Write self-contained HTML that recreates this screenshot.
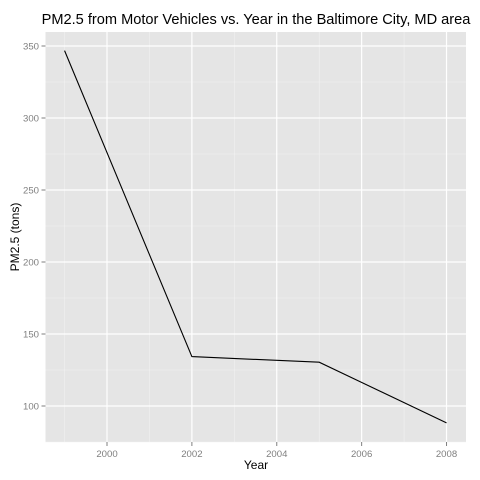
<!DOCTYPE html>
<html><head><meta charset="utf-8"><style>
body{margin:0;background:#fff;}
svg{display:block;font-family:"Liberation Sans",Arial,sans-serif;}
</style></head><body>
<svg id="chart" width="480" height="480">
<text x="256" y="24" text-anchor="middle" font-size="14.6" fill="#000">PM2.5 from Motor Vehicles vs. Year in the Baltimore City, MD area</text>
<rect x="45.5" y="32" width="420.5" height="410" fill="#e5e5e5"/>
<g id="grid"></g>
<g id="axes"></g>
<text x="256" y="469" text-anchor="middle" font-size="12" fill="#000">Year</text>
<text transform="translate(19,237) rotate(-90)" text-anchor="middle" font-size="12" fill="#000">PM2.5 (tons)</text>
</svg>
<script>
const years=[1999,2002,2005,2008];
const emissions=[346.8,134.3,130.4,88.3];
const xTicks=[2000,2002,2004,2006,2008];
const yTicks=[100,150,200,250,300,350];
const NS="http://www.w3.org/2000/svg";
const x=v=>107+(v-2000)*42.44;
const y=v=>406-(v-100)*1.44;
const grid=document.getElementById('grid'),axes=document.getElementById('axes');
function mk(t,a,p){const e=document.createElementNS(NS,t);for(const k in a)e.setAttribute(k,a[k]);p.appendChild(e);return e;}
for(let i=0;i<xTicks.length-1;i++){const m=(xTicks[i]+xTicks[i+1])/2;
const l=mk('line',{x1:x(m),x2:x(m),y1:32,y2:442,stroke:'#f2f2f2','stroke-width':0.6},grid);
}
mk('line',{x1:x(1999),x2:x(1999),y1:32,y2:442,stroke:'#f2f2f2','stroke-width':0.6},grid);
for(let i=0;i<yTicks.length-1;i++){const m=(yTicks[i]+yTicks[i+1])/2;
const l=mk('line',{x1:45.5,x2:466,y1:y(m),y2:y(m),stroke:'#f2f2f2','stroke-width':0.6},grid);
}
mk('line',{x1:45.5,x2:466,y1:y(75),y2:y(75),stroke:'#f2f2f2','stroke-width':0.6},grid);
xTicks.forEach(v=>{
const l=mk('line',{x1:x(v),x2:x(v),y1:32,y2:442,stroke:'#fff','stroke-width':1.2},grid);

mk('line',{x1:x(v),x2:x(v),y1:442,y2:446,stroke:'#7f7f7f'},axes);
const t=mk('text',{x:x(v),y:457,'text-anchor':'middle','font-size':9.6,fill:'#7f7f7f'},axes);t.textContent=v;
});
yTicks.forEach(v=>{
const l=mk('line',{x1:45.5,x2:466,y1:y(v),y2:y(v),stroke:'#fff','stroke-width':1.2},grid);

mk('line',{x1:41.5,x2:45.5,y1:y(v),y2:y(v),stroke:'#7f7f7f'},axes);
const t=mk('text',{x:39,y:y(v)+3.5,'text-anchor':'end','font-size':9.6,fill:'#7f7f7f'},axes);t.textContent=v;
});
const p=mk('polyline',{points:years.map((v,i)=>x(v)+','+y(emissions[i])).join(' '),fill:'none',stroke:'#000','stroke-width':1.1},document.getElementById('chart'));


</script>
</body></html>
